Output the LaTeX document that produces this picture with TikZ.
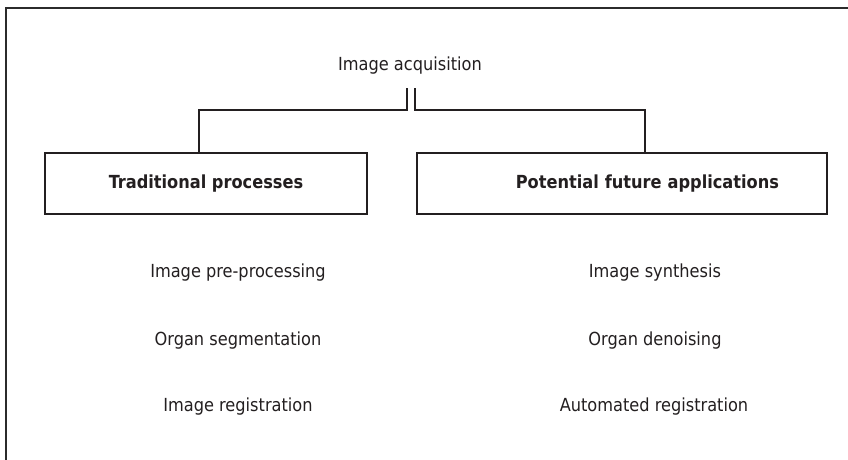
\documentclass[tikz,border=0pt]{standalone}
\usepackage{fontspec}
\setmainfont{DejaVu Sans Condensed}
\definecolor{ink}{HTML}{231F20}
\definecolor{framec}{HTML}{2B2B2B}
\begin{document}
\begin{tikzpicture}[x=1pt,y=-1pt,
  every node/.style={font=\fontsize{18}{22}\selectfont, text=ink},
  plain/.style={anchor=base, inner sep=0pt},
  box/.style={draw=ink, line width=1.4pt, minimum height=61pt, inner ysep=0pt},
  conn/.style={draw=ink, line width=1.3pt},
  frame/.style={draw=framec, line width=2.2pt}]
\useasboundingbox (0,0) rectangle (848,459);
\fill[white] (0,0) rectangle (848,459);
\draw[frame] (6,460) -- (6,8) -- (849,8);

\node[plain] (acq) at (410,70) {Image acquisition};

\node[box, minimum width=322pt, inner xsep=0pt] (trad) at (206,183.5) {\bfseries Traditional processes};
\node[box, text width=314pt, align=right, inner xsep=48pt] (pot) at (622,183.5) {\bfseries Potential future applications};

\coordinate (jl) at (407,88);
\coordinate (jr) at (415,88);
\draw[conn] (jl) -- (407,110) -| ([xshift=-7pt]trad.north);
\draw[conn] (jr) -- (415,110) -| ([xshift=23pt]pot.north);

\node[plain] (l1) at (238,277) {Image pre-processing};
\node[plain] (l2) at (238,345) {Organ segmentation};
\node[plain] (l3) at (238,411) {Image registration};
\node[plain] (r1) at (655,277) {Image synthesis};
\node[plain] (r2) at (655,345) {Organ denoising};
\node[plain] (r3) at (654,411) {Automated registration};
\end{tikzpicture}
\end{document}
